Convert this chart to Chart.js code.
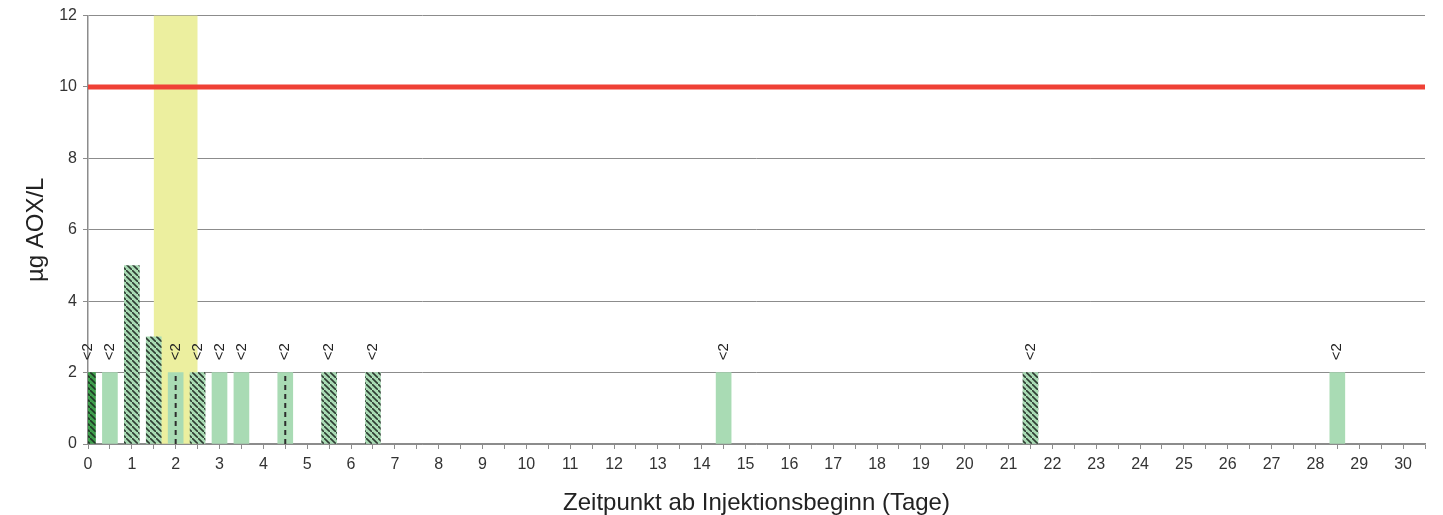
<!DOCTYPE html>
<html>
<head>
<meta charset="utf-8">
<script src="https://cdn.jsdelivr.net/npm/chart.js@4"></script>
<style>
  html, body { margin: 0; padding: 0; background: #fff; }
  #wrap { width: 1443px; height: 515px; }
</style>
</head>
<body>
<div id="wrap"><canvas id="chart"></canvas></div>
<script>
"use strict";

// data
var solidDays = [0.5, 3, 3.5, 14.5, 28.5];
var solidValues = [2, 2, 2, 2, 2];
var dashedDays = [2, 4.5];
var dashedValues = [2, 2];
var hatchDays = [1, 1.5, 2.5, 5.5, 6.5, 21.5];
var hatchValues = [5, 3, 2, 2, 2, 2];
var darkDays = [0];
var darkValues = [2];
var bandDay = [2];
var bandValue = [12];
var limitValue = 10;
var belowDays = [0, 0.5, 2, 2.5, 3, 3.5, 4.5, 5.5, 6.5, 14.5, 21.5, 28.5];
var belowLabel = "<2";
var belowValue = 2;

var FONT = "'Liberation Sans', Arial, sans-serif";
var LIGHT = "#a9dbb4";
var GRID = "#8c8c8c";

function points(xs, ys) {
  return xs.map(function (x, i) { return { x: x, y: ys[i] }; });
}

function hatch(bg, fg) {
  var s = 6;
  var c = document.createElement("canvas");
  c.width = s; c.height = s;
  var g = c.getContext("2d");
  g.fillStyle = bg;
  g.fillRect(0, 0, s, s);
  g.strokeStyle = fg;
  g.lineWidth = 1.6;
  g.beginPath();
  g.moveTo(-1, -1); g.lineTo(s + 1, s + 1);
  g.stroke();
  return g.createPattern(c, "repeat");
}

// vertical dashed lines through the dashed bars
function dashedLines() {
  var sets = [];
  dashedDays.forEach(function (d, i) {
    sets.push({
      type: "line",
      data: [{ x: d, y: 0 }, { x: d, y: dashedValues[i] }],
      borderColor: "#2d2d2d",
      borderWidth: 2,
      borderDash: [5, 4],
      pointRadius: 0,
      order: 2
    });
  });
  return sets;
}

var belowLabels = {
  id: "belowLabels",
  afterDatasetsDraw: function (chart) {
    var ctx = chart.ctx;
    var xs = chart.scales.x, ys = chart.scales.y;
    ctx.save();
    ctx.font = "15px " + FONT;
    ctx.fillStyle = "#222";
    ctx.textAlign = "center";
    ctx.textBaseline = "middle";
    belowDays.forEach(function (d) {
      ctx.save();
      ctx.translate(xs.getPixelForValue(d), ys.getPixelForValue(belowValue) - 21);
      ctx.rotate(-Math.PI / 2);
      ctx.fillText(belowLabel, 0, 0);
      ctx.restore();
    });
    ctx.restore();
  }
};

var datasets = [
  {
    data: points(bandDay, bandValue),
    backgroundColor: "#ecef9f",
    barThickness: 43,
    order: 10
  },
  {
    type: "line",
    data: [{ x: 0, y: limitValue }, { x: 30.5, y: limitValue }],
    borderColor: "#ef4136",
    borderWidth: 5,
    pointRadius: 0,
    order: 0
  },
  {
    data: points(solidDays, solidValues),
    backgroundColor: LIGHT,
    barThickness: 15,
    order: 3
  },
  {
    data: points(dashedDays, dashedValues),
    backgroundColor: LIGHT,
    barThickness: 15,
    order: 3
  },
  {
    data: points(hatchDays, hatchValues),
    backgroundColor: hatch(LIGHT, "#2e3d33"),
    barThickness: 15,
    order: 3
  },
  {
    data: points(darkDays, darkValues),
    backgroundColor: hatch("#3f9e4d", "#1f3a25"),
    barThickness: 15,
    clip: 0,
    order: 3
  }
].concat(dashedLines());

new Chart(document.getElementById("chart"), {
  type: "bar",
  data: { datasets: datasets },
  plugins: [belowLabels],
  options: {
    responsive: true,
    maintainAspectRatio: false,
    animation: false,
    grouped: false,
    layout: { padding: { top: 9, right: 18, left: 0, bottom: 0 } },
    plugins: { legend: { display: false }, tooltip: { enabled: false } },
    scales: {
      x: {
        type: "linear",
        min: 0,
        max: 30.5,
        offset: false,
        afterFit: function (s) { s.height = 71; },
        ticks: {
          stepSize: 0.5,
          autoSkip: false,
          maxRotation: 0,
          padding: 6,
          color: "#333",
          font: { family: FONT, size: 16 },
          callback: function (v) { return Number.isInteger(v) ? String(v) : ""; }
        },
        grid: { drawOnChartArea: false, drawTicks: true, tickLength: 5, color: GRID, lineWidth: 1, offset: false },
        border: { color: GRID, width: 1.5 },
        title: {
          display: true,
          text: "Zeitpunkt ab Injektionsbeginn (Tage)",
          color: "#222",
          font: { family: FONT, size: 24 },
          padding: { top: 6, bottom: -3 }
        }
      },
      y: {
        min: 0,
        max: 12,
        afterFit: function (s) { s.width = 88; },
        ticks: {
          stepSize: 2,
          padding: 6,
          color: "#333",
          font: { family: FONT, size: 16 }
        },
        grid: { color: GRID, lineWidth: 1, tickLength: 5 },
        border: { color: GRID, width: 1.5 },
        title: {
          display: true,
          text: "µg AOX/L",
          color: "#222",
          font: { family: FONT, size: 24 },
          padding: { top: 22, bottom: 0 }
        }
      }
    }
  }
});
</script>
</body>
</html>
